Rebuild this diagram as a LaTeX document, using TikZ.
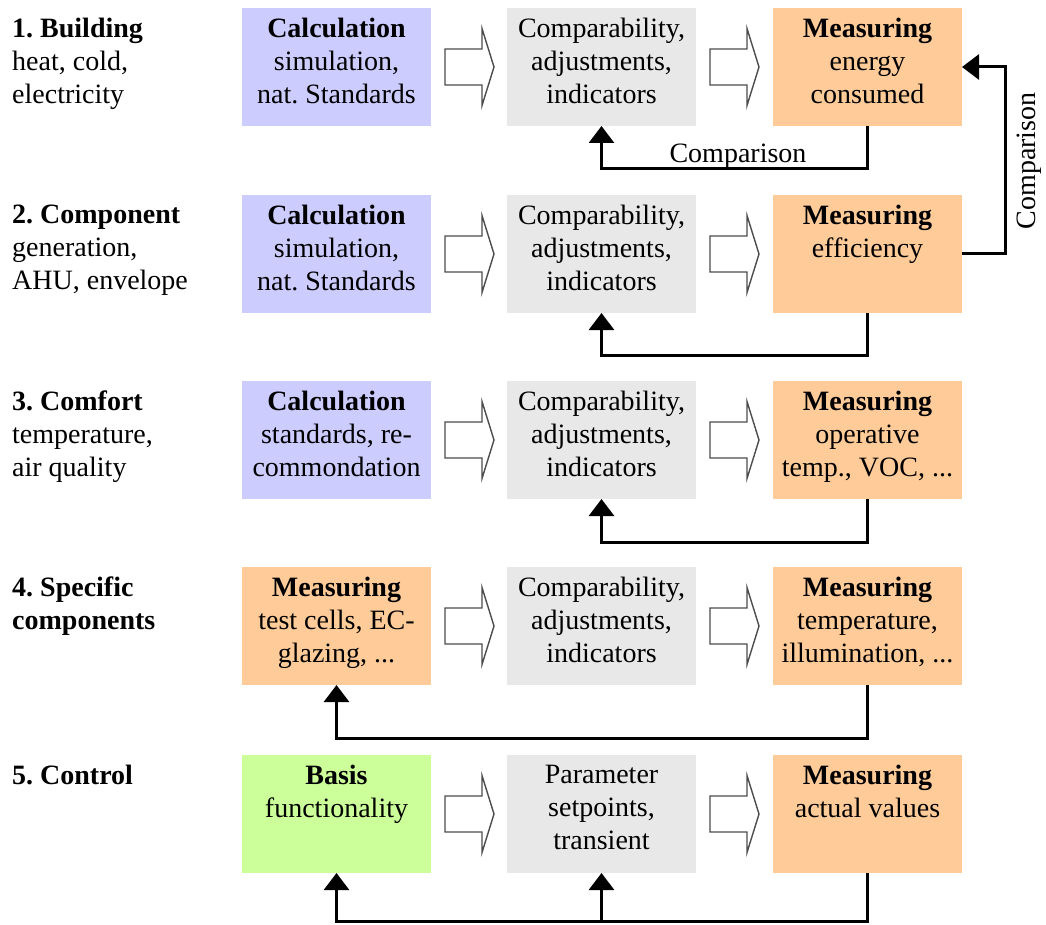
\documentclass[tikz,border=0pt]{standalone}
\usepackage{fontspec}
\setmainfont{Liberation Serif}[Ligatures=TeX]
\newfontfamily\tmsfont{Liberation Serif}
\frenchspacing
\usetikzlibrary{arrows.meta,calc}
\definecolor{calcblue}{HTML}{CCCCFF}
\definecolor{cmpgray}{HTML}{E8E8E8}
\definecolor{measorange}{HTML}{FFCC99}
\definecolor{basisgreen}{HTML}{CCFF99}
\tikzset{
  every node/.style={font=\tmsfont\frenchspacing\fontsize{28}{33}\selectfont},
  box/.style={minimum width=189pt, minimum height=118pt, inner sep=0pt, outer sep=0pt, draw=none},
  calcbox/.style={box, fill=calcblue},
  cmpbox/.style={box, fill=cmpgray},
  measbox/.style={box, fill=measorange},
  basisbox/.style={box, fill=basisgreen},
  txt/.style={anchor=north, align=center, inner sep=0pt},
  lefttxt/.style={anchor=north west, align=left, inner sep=0pt},
  fb/.style={line width=3pt, line join=miter, -{Triangle[width=25pt,length=17pt]}},
  blk/.style={draw=black!70, line width=1.4pt, fill=white, line join=miter}
}
\newcommand{\blockarrow}[1]{%
  \draw[blk] ($(#1.east)+(14,-18)$) -- ($(#1.east)+(51,-18)$) -- ($(#1.east)+(51,-38.5)$)
    -- ($(#1.east)+(63,0)$) -- ($(#1.east)+(51,38.5)$) -- ($(#1.east)+(51,18)$)
    -- ($(#1.east)+(14,18)$) -- cycle;}
\begin{document}
\begin{tikzpicture}[x=1pt,y=-1pt]
\useasboundingbox (0,0) rectangle (1046,925);
% row 1
\node[calcbox] (r1c1) at (336.5,67) {};
\node[cmpbox]  (r1c2) at (601.5,67) {};
\node[measbox] (r1c3) at (867.5,67) {};
% row 2
\node[calcbox] (r2c1) at (336.5,254) {};
\node[cmpbox]  (r2c2) at (601.5,254) {};
\node[measbox] (r2c3) at (867.5,254) {};
% row 3
\node[calcbox] (r3c1) at (336.5,440) {};
\node[cmpbox]  (r3c2) at (601.5,440) {};
\node[measbox] (r3c3) at (867.5,440) {};
% row 4
\node[measbox] (r4c1) at (336.5,626) {};
\node[cmpbox]  (r4c2) at (601.5,626) {};
\node[measbox] (r4c3) at (867.5,626) {};
% row 5
\node[basisbox] (r5c1) at (336.5,814) {};
\node[cmpbox]   (r5c2) at (601.5,814) {};
\node[measbox]  (r5c3) at (867.5,814) {};

% texts
\node[txt] (t11) at ($(r1c1.north)+(0,10)$) {\textbf{Calculation}\\simulation,\\nat. Standards};
\node[txt] (t12) at ($(r1c2.north)+(0,10)$) {Comparability,\\adjustments,\\indicators};
\node[txt] (t13) at ($(r1c3.north)+(0,10)$) {\textbf{Measuring}\\energy\\consumed};
\node[txt] (t21) at ($(r2c1.north)+(0,10)$) {\textbf{Calculation}\\simulation,\\nat. Standards};
\node[txt] (t22) at ($(r2c2.north)+(0,10)$) {Comparability,\\adjustments,\\indicators};
\node[txt] (t23) at ($(r2c3.north)+(0,10)$) {\textbf{Measuring}\\efficiency};
\node[txt] (t31) at ($(r3c1.north)+(0,10)$) {\textbf{Calculation}\\standards, re-\\commondation};
\node[txt] (t32) at ($(r3c2.north)+(0,10)$) {Comparability,\\adjustments,\\indicators};
\node[txt] (t33) at ($(r3c3.north)+(0,10)$) {\textbf{Measuring}\\operative\\temp., VOC, ...};
\node[txt] (t41) at ($(r4c1.north)+(0,10)$) {\textbf{Measuring}\\test cells, EC-\\glazing, ...};
\node[txt] (t42) at ($(r4c2.north)+(0,10)$) {Comparability,\\adjustments,\\indicators};
\node[txt] (t43) at ($(r4c3.north)+(0,10)$) {\textbf{Measuring}\\temperature,\\illumination, ...};
\node[txt] (t51) at ($(r5c1.north)+(0,10)$) {\textbf{Basis}\\functionality};
\node[txt] (t52) at ($(r5c2.north)+(0,10)$) {Parameter\\setpoints,\\transient};
\node[txt] (t53) at ($(r5c3.north)+(0,10)$) {\textbf{Measuring}\\actual values};

% left labels
\node[lefttxt] (l1) at (12,18) {\textbf{1. Building}\\heat, cold,\\electricity};
\node[lefttxt] (l2) at (12,205) {\textbf{2. Component}\\generation,\\AHU, envelope};
\node[lefttxt] (l3) at (12,391) {\textbf{3. Comfort}\\temperature,\\air quality};
\node[lefttxt] (l4) at (12,577) {\textbf{4. Specific}\\\textbf{components}};
\node[lefttxt] (l5) at (12,765) {\textbf{5. Control}};

% block arrows
\blockarrow{r1c1}\blockarrow{r1c2}
\blockarrow{r2c1}\blockarrow{r2c2}
\blockarrow{r3c1}\blockarrow{r3c2}
\blockarrow{r4c1}\blockarrow{r4c2}
\blockarrow{r5c1}\blockarrow{r5c2}

% feedback arrows
\draw[fb] (r1c3.south) -- ++(0,43) -| (r1c2.south);
\draw[fb] (r2c3.south) -- ++(0,42) -| (r2c2.south);
\draw[fb] (r3c3.south) -- ++(0,43) -| (r3c2.south);
\draw[fb] (r4c3.south) -- ++(0,53) -| (r4c1.south);
\coordinate (b5) at ($(r5c3.south)+(0,48)$);
\draw[fb] (r5c3.south) -- (b5) -| (r5c1.south);
\draw[fb] (r5c2.south |- b5) -- (r5c2.south);
\draw[fb] (r2c3.east) -- ++(43,0) |- (r1c3.east);

% comparison labels
\node[anchor=base, inner sep=0pt] (cmp1) at (738,163) {Comparison};
\node[rotate=90, inner sep=0pt] (cmp2) at (1029,161) {Comparison};
\end{tikzpicture}
\end{document}
